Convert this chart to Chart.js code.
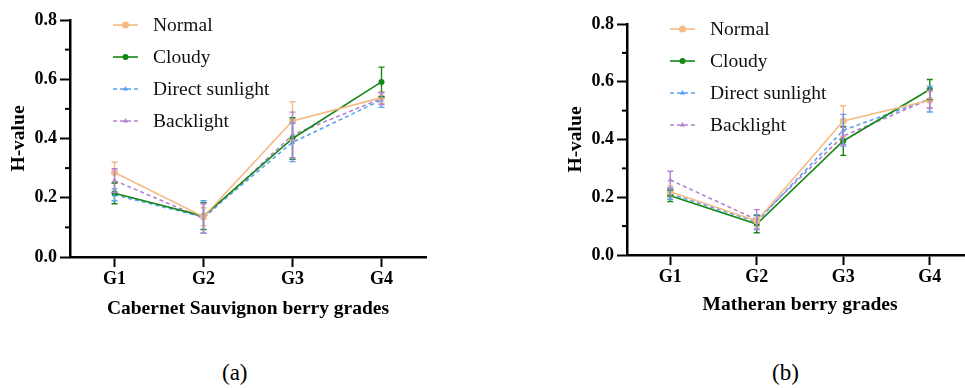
<!DOCTYPE html>
<html>
<head>
<meta charset="utf-8">
<script src="https://cdn.jsdelivr.net/npm/chart.js@4.4.1/dist/chart.umd.min.js"></script>
<style>
  html, body { margin: 0; padding: 0; background: #fff; }
  body { width: 965px; height: 388px; overflow: hidden; position: relative; }
  canvas { position: absolute; top: 0; }
  #chartA { left: 0; }
  #chartB { left: 480px; }
  .cap { position: absolute; top: 360px; font: 23px "Liberation Serif", "Times New Roman", serif; color: #000; }
</style>
</head>
<body>
<canvas id="chartA" width="440" height="321" style="width:440px;height:321px"></canvas>
<canvas id="chartB" width="500" height="317" style="width:500px;height:317px"></canvas>
<div class="cap" style="left:222px">(a)</div>
<div class="cap" style="left:772px">(b)</div>
<script>
// categories and series
const categories = ['G1', 'G2', 'G3', 'G4'];
const seriesNames = ['Normal', 'Cloudy', 'Direct sunlight', 'Backlight'];
const yTicks = [0.0, 0.2, 0.4, 0.6, 0.8];
const yMinorTicks = [0.1, 0.3, 0.5, 0.7];

// (a) Cabernet Sauvignon - means
const normalA = [0.285, 0.136, 0.459, 0.538];
const cloudyA = [0.215, 0.138, 0.400, 0.591];
const directA = [0.210, 0.135, 0.387, 0.530];
const backA = [0.258, 0.130, 0.412, 0.535];
// (a) error (+/-)
const normalErrA = [0.035, 0.030, 0.065, 0.020];
const cloudyErrA = [0.035, 0.045, 0.070, 0.050];
const directErrA = [0.020, 0.055, 0.065, 0.025];
const backErrA = [0.040, 0.050, 0.077, 0.020];

// (b) Matheran - means
const normalB = [0.219, 0.118, 0.464, 0.536];
const cloudyB = [0.205, 0.107, 0.395, 0.573];
const directB = [0.212, 0.115, 0.432, 0.540];
const backB = [0.260, 0.122, 0.412, 0.540];
// (b) error (+/-)
const normalErrB = [0.020, 0.020, 0.053, 0.030];
const cloudyErrB = [0.020, 0.030, 0.050, 0.035];
const directErrB = [0.020, 0.025, 0.055, 0.045];
const backErrB = [0.030, 0.035, 0.030, 0.030];

const serif = '"Liberation Serif", "Times New Roman", serif';
const colors = ['rgb(246,186,132)', 'rgb(20,135,20)', 'rgb(90,160,240)', 'rgb(180,130,210)'];
const dashes = [[], [], [4, 3], [4, 3]];
const shapes = ['circle', 'circle', 'triangle', 'triangle'];
const radii = [3.5, 3, 3, 3];

function buildDatasets(values, errors) {
    return values.map((vals, i) => ({
        label: seriesNames[i],
        data: vals,
        errors: errors[i],
        borderColor: colors[i],
        backgroundColor: colors[i],
        borderWidth: 1.6,
        borderDash: dashes[i],
        pointStyle: shapes[i],
        pointRadius: radii[i],
        pointBorderWidth: 0,
        tension: 0
    }));
}

// error bars drawn through the y scale
const errorBars = {
    id: 'errorBars',
    afterDatasetsDraw(chart) {
        const ctx = chart.ctx;
        const yScale = chart.scales.y;
        chart.data.datasets.forEach((ds, i) => {
            const meta = chart.getDatasetMeta(i);
            ctx.save();
            ctx.strokeStyle = ds.borderColor;
            ctx.lineWidth = 1.4;
            meta.data.forEach((pt, j) => {
                const v = ds.data[j], e = ds.errors[j];
                const yt = yScale.getPixelForValue(v + e);
                const yb = yScale.getPixelForValue(v - e);
                ctx.beginPath();
                ctx.moveTo(pt.x, yt); ctx.lineTo(pt.x, yb);
                ctx.moveTo(pt.x - 3, yt); ctx.lineTo(pt.x + 3, yt);
                ctx.moveTo(pt.x - 3, yb); ctx.lineTo(pt.x + 3, yb);
                ctx.stroke();
            });
            ctx.restore();
        });
    }
};

// minor y ticks + legend inside the plot
const extras = {
    id: 'extras',
    afterDraw(chart) {
        const ctx = chart.ctx;
        const yScale = chart.scales.y;
        const left = chart.chartArea.left;
        ctx.save();
        ctx.strokeStyle = '#000';
        ctx.lineWidth = 2;
        yMinorTicks.forEach(t => {
            const y = yScale.getPixelForValue(t);
            ctx.beginPath();
            ctx.moveTo(left - 5, y); ctx.lineTo(left, y);
            ctx.stroke();
        });

        // legend
        const lx = left + 43;
        let ly = chart.chartArea.top + 5;
        ctx.font = '19.5px ' + serif;
        ctx.textBaseline = 'middle';
        chart.data.datasets.forEach((ds, i) => {
            ctx.strokeStyle = ds.borderColor;
            ctx.fillStyle = ds.borderColor;
            ctx.lineWidth = 1.6;
            ctx.setLineDash(ds.borderDash);
            ctx.beginPath();
            ctx.moveTo(lx, ly); ctx.lineTo(lx + 25, ly);
            ctx.stroke();
            ctx.setLineDash([]);
            Chart.helpers.drawPoint(ctx, { pointStyle: ds.pointStyle, radius: ds.pointRadius, borderWidth: 0 }, lx + 12.5, ly);
            ctx.fillStyle = '#111';
            ctx.fillText(ds.label, lx + 40, ly + 1);
            ly += 32;
        });
        ctx.restore();
    }
};

function makeChart(canvasId, datasets, xTitle, pad) {
    const tickFont = { family: serif, size: 18, weight: 'bold' };
    const titleFont = { family: serif, size: 19.5, weight: 'bold' };
    return new Chart(document.getElementById(canvasId), {
        type: 'line',
        data: { labels: categories, datasets: datasets },
        options: {
            responsive: false,
            animation: false,
            layout: { padding: pad },
            plugins: { legend: { display: false }, tooltip: { enabled: false } },
            scales: {
                x: {
                    offset: true,
                    grid: { drawOnChartArea: false, tickLength: 10, tickColor: '#000', tickWidth: 2 },
                    border: { color: '#000', width: 2.5 },
                    ticks: { color: '#000', font: tickFont, padding: 2 },
                    title: { display: true, text: xTitle, color: '#000', font: titleFont, padding: { top: 2, bottom: 0 } },
                    afterFit: (scale) => { scale.height = pad.xh; }
                },
                y: {
                    min: 0,
                    max: 0.8,
                    afterBuildTicks: (scale) => { scale.ticks = yTicks.map(v => ({ value: v })); },
                    grid: { drawOnChartArea: false, tickLength: 10, tickColor: '#000', tickWidth: 2 },
                    border: { color: '#000', width: 2.5 },
                    ticks: { color: '#000', font: tickFont, padding: 3, callback: (v) => Number(v).toFixed(1) },
                    title: { display: true, text: 'H-value', color: '#000', font: titleFont, padding: { top: 7, bottom: 0 } },
                    afterFit: (scale) => { scale.width = 70; }
                }
            }
        },
        plugins: [errorBars, extras]
    });
}

makeChart('chartA',
    buildDatasets([normalA, cloudyA, directA, backA], [normalErrA, cloudyErrA, directErrA, backErrA]),
    'Cabernet Sauvignon berry grades',
    { top: 20, left: 0, right: 14, bottom: 0, xh: 64 });

makeChart('chartB',
    buildDatasets([normalB, cloudyB, directB, backB], [normalErrB, cloudyErrB, directErrB, backErrB]),
    'Matheran berry grades',
    { top: 24, left: 77, right: 7, bottom: 0, xh: 62 });
</script>
</body>
</html>
